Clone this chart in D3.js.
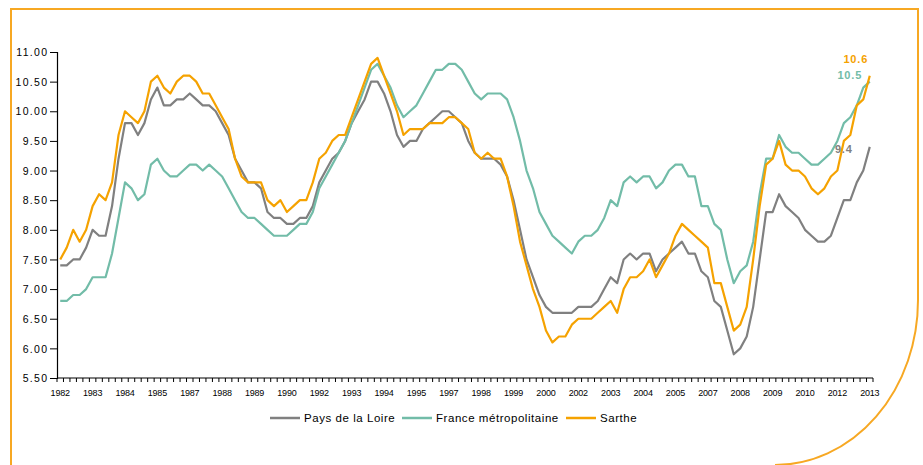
<!DOCTYPE html>
<html>
<head>
<meta charset="utf-8">
<script src="https://cdn.jsdelivr.net/npm/d3@7"></script>
<style>
    body { margin: 0; background: #fff; }
    svg text { font-family: "Liberation Sans", Arial, sans-serif; fill: #000; }
</style>
</head>
<body>
<div id="chart"></div>
<script>
const WIDTH = 923;
const HEIGHT = 465;
const MARGINS = {
    top: 52,
    right: 50,
    bottom: 87,
    left: 57
};
const ORANGE = "#f5a200";
const TEAL = "#72bca8";
const GREY = "#808080";
const FRAME = "#f7a823";

// Quarterly series, 1982 T1 -> 2013 T2
const YEARS = d3.range(1982, 2014);
const CATEGORIES = [];
YEARS.forEach(function(y) {
    [1, 2, 3, 4].forEach(function(q) {
        if (CATEGORIES.length < 126) CATEGORIES.push(`${y}T${q}`);
    });
});

const TICK_LABELS = [
    "1982", "1983", "1984", "1985", "1987", "1988", "1989", "1990", "1992",
    "1993", "1994", "1995", "1997", "1998", "1999", "2000", "2002", "2003",
    "2004", "2005", "2007", "2008", "2009", "2010", "2012", "2013"
];
const TICK_STEP = 5;

const Y_TICKS = [5.5, 6, 6.5, 7, 7.5, 8, 8.5, 9, 9.5, 10, 10.5, 11];

const PAYS_DE_LA_LOIRE = [
    7.4, 7.4, 7.5, 7.5, 7.7, 8.0, 7.9, 7.9, 8.4, 9.2, 9.8, 9.8, 9.6, 9.8, 10.2, 10.4,
    10.1, 10.1, 10.2, 10.2, 10.3, 10.2, 10.1, 10.1, 10.0, 9.8, 9.6, 9.2, 9.0, 8.8, 8.8, 8.7,
    8.3, 8.2, 8.2, 8.1, 8.1, 8.2, 8.2, 8.4, 8.8, 9.0, 9.2, 9.3, 9.5, 9.8, 10.0, 10.2,
    10.5, 10.5, 10.3, 10.0, 9.6, 9.4, 9.5, 9.5, 9.7, 9.8, 9.9, 10.0, 10.0, 9.9, 9.8, 9.5,
    9.3, 9.2, 9.2, 9.2, 9.1, 8.9, 8.5, 8.0, 7.5, 7.2, 6.9, 6.7, 6.6, 6.6, 6.6, 6.6,
    6.7, 6.7, 6.7, 6.8, 7.0, 7.2, 7.1, 7.5, 7.6, 7.5, 7.6, 7.6, 7.3, 7.5, 7.6, 7.7,
    7.8, 7.6, 7.6, 7.3, 7.2, 6.8, 6.7, 6.3, 5.9, 6.0, 6.2, 6.7, 7.5, 8.3, 8.3, 8.6,
    8.4, 8.3, 8.2, 8.0, 7.9, 7.8, 7.8, 7.9, 8.2, 8.5, 8.5, 8.8, 9.0, 9.4
];
const FRANCE = [
    6.8, 6.8, 6.9, 6.9, 7.0, 7.2, 7.2, 7.2, 7.6, 8.2, 8.8, 8.7, 8.5, 8.6, 9.1, 9.2,
    9.0, 8.9, 8.9, 9.0, 9.1, 9.1, 9.0, 9.1, 9.0, 8.9, 8.7, 8.5, 8.3, 8.2, 8.2, 8.1,
    8.0, 7.9, 7.9, 7.9, 8.0, 8.1, 8.1, 8.3, 8.7, 8.9, 9.1, 9.3, 9.5, 9.8, 10.1, 10.4,
    10.7, 10.8, 10.6, 10.4, 10.1, 9.9, 10.0, 10.1, 10.3, 10.5, 10.7, 10.7, 10.8, 10.8, 10.7, 10.5,
    10.3, 10.2, 10.3, 10.3, 10.3, 10.2, 9.9, 9.5, 9.0, 8.7, 8.3, 8.1, 7.9, 7.8, 7.7, 7.6,
    7.8, 7.9, 7.9, 8.0, 8.2, 8.5, 8.4, 8.8, 8.9, 8.8, 8.9, 8.9, 8.7, 8.8, 9.0, 9.1,
    9.1, 8.9, 8.9, 8.4, 8.4, 8.1, 8.0, 7.5, 7.1, 7.3, 7.4, 7.8, 8.6, 9.2, 9.2, 9.6,
    9.4, 9.3, 9.3, 9.2, 9.1, 9.1, 9.2, 9.3, 9.5, 9.8, 9.9, 10.1, 10.4, 10.5
];
const SARTHE = [
    7.5, 7.7, 8.0, 7.8, 8.0, 8.4, 8.6, 8.5, 8.8, 9.6, 10.0, 9.9, 9.8, 10.0, 10.5, 10.6,
    10.4, 10.3, 10.5, 10.6, 10.6, 10.5, 10.3, 10.3, 10.1, 9.9, 9.7, 9.2, 8.9, 8.8, 8.8, 8.8,
    8.5, 8.4, 8.5, 8.3, 8.4, 8.5, 8.5, 8.8, 9.2, 9.3, 9.5, 9.6, 9.6, 9.9, 10.2, 10.5,
    10.8, 10.9, 10.6, 10.3, 10.0, 9.6, 9.7, 9.7, 9.7, 9.8, 9.8, 9.8, 9.9, 9.9, 9.8, 9.7,
    9.3, 9.2, 9.3, 9.2, 9.2, 8.9, 8.4, 7.8, 7.4, 7.0, 6.7, 6.3, 6.1, 6.2, 6.2, 6.4,
    6.5, 6.5, 6.5, 6.6, 6.7, 6.8, 6.6, 7.0, 7.2, 7.2, 7.3, 7.5, 7.2, 7.4, 7.6, 7.9,
    8.1, 8.0, 7.9, 7.8, 7.7, 7.1, 7.1, 6.7, 6.3, 6.4, 6.7, 7.5, 8.4, 9.1, 9.2, 9.5,
    9.1, 9.0, 9.0, 8.9, 8.7, 8.6, 8.7, 8.9, 9.0, 9.5, 9.6, 10.1, 10.2, 10.6
];

const SERIES = [
    { name: "Pays de la Loire", values: PAYS_DE_LA_LOIRE, color: GREY, label: { dx: -26, dy: 6 } },
    { name: "France métropolitaine", values: FRANCE, color: TEAL, label: { dx: -20, dy: -3 } },
    { name: "Sarthe", values: SARTHE, color: ORANGE, label: { dx: -14, dy: -13 } }
];

var svg = d3.create("svg")
    .attr("width", WIDTH)
    .attr("height", HEIGHT)
    .attr("viewBox", [0, 0, WIDTH, HEIGHT]);

// Orange frame: top, left, right edge with rounded lower corner
svg.append("path")
    .attr("d", `M 11 465 L 11 9 L 918 9 L 918 300 A 143 165 0 0 1 775 465`)
    .style("fill", "none")
    .style("stroke", FRAME)
    .style("stroke-width", 2);

var x = d3.scaleBand()
    .domain(CATEGORIES)
    .range([MARGINS.left, WIDTH - MARGINS.right])
    .padding(0);

var y = d3.scaleLinear()
    .domain([5.5, 11])
    .range([HEIGHT - MARGINS.bottom, MARGINS.top]);

// Y axis
var yAxis = svg.append("g")
    .attr("transform", `translate(${MARGINS.left},0)`)
    .call(d3.axisLeft(y).tickValues(Y_TICKS).tickFormat(d3.format(".2f")).tickSize(7).tickPadding(3));
yAxis.select(".domain").attr("stroke", "#000").attr("stroke-width", 1.2);
yAxis.selectAll(".tick line").attr("stroke", "#000");
yAxis.selectAll(".tick text")
    .style("font-size", "10.5px")
    .style("letter-spacing", "1.3px")
    .attr("dx", 1.3)
    .attr("dy", "0.35em");

// X axis: tick marks between every quarter, labels every 5 quarters
var xAxisY = HEIGHT - MARGINS.bottom;
svg.append("line")
    .attr("x1", MARGINS.left)
    .attr("x2", WIDTH - MARGINS.right)
    .attr("y1", xAxisY)
    .attr("y2", xAxisY)
    .style("stroke", "#000")
    .style("stroke-width", 1.2);

var boundaries = CATEGORIES.map(c => x(c)).concat([x(CATEGORIES[CATEGORIES.length - 1]) + x.bandwidth()]);
svg.append("g")
    .selectAll("line")
    .data(boundaries)
    .join("line")
    .attr("x1", d => d)
    .attr("x2", d => d)
    .attr("y1", xAxisY)
    .attr("y2", xAxisY + 4)
    .style("stroke", "#000")
    .style("stroke-width", 1);

TICK_LABELS.forEach(function(label, index) {
    var cat = CATEGORIES[index * TICK_STEP];
    svg.append("text")
        .text(label)
        .attr("x", x(cat) + x.bandwidth() / 2)
        .attr("y", xAxisY + 18)
        .attr("text-anchor", "middle")
        .style("font-size", "9px")
        .style("letter-spacing", "-0.2px");
});

// Lines
var line = d3.line()
    .x((d, i) => x(CATEGORIES[i]) + x.bandwidth() / 2)
    .y(d => y(d));

SERIES.forEach(function(s) {
    svg.append("path")
        .attr("d", line(s.values))
        .style("fill", "none")
        .style("stroke", s.color)
        .style("stroke-width", 2.2)
        .style("stroke-linejoin", "round");
});

// End value labels
SERIES.forEach(function(s) {
    var last = s.values.length - 1;
    svg.append("text")
        .text(d3.format(".1f")(s.values[last]))
        .attr("x", x(CATEGORIES[last]) + x.bandwidth() / 2 + s.label.dx)
        .attr("y", y(s.values[last]) + s.label.dy)
        .attr("text-anchor", "middle")
        .style("font-size", "11px")
        .style("font-weight", "bold")
        .style("letter-spacing", "0.8px")
        .style("fill", s.color);
});

// Legend
var legendX = [270, 402, 566];
SERIES.forEach(function(s, i) {
    var g = svg.append("g").attr("transform", `translate(${legendX[i]},418)`);
    g.append("line")
        .attr("x1", 0)
        .attr("x2", 30)
        .style("stroke", s.color)
        .style("stroke-width", 2.5);
    g.append("text")
        .text(s.name)
        .attr("x", 34)
        .attr("y", 4)
        .style("font-size", "11.5px")
        .style("letter-spacing", "0.55px");
});

document.getElementById("chart").appendChild(svg.node());
</script>
</body>
</html>
